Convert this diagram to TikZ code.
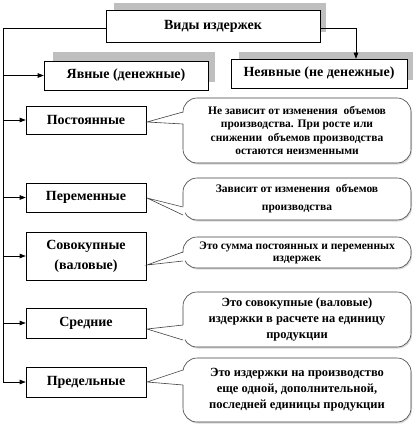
\documentclass[tikz,border=0pt]{standalone}
\usepackage{fontspec}
\setmainfont{Liberation Serif}
\usetikzlibrary{arrows.meta,shadows}

\tikzset{
  box/.style={draw, line width=0.6pt, fill=white, align=center, inner sep=0pt,
    font=\fontsize{14}{20}\selectfont\bfseries},
  leftbox/.style={box, minimum width=120pt},
  backshade/.style={fill=black!25},
  bubbleline/.style={draw=black!75, line width=0.6pt},
  bubble/.style={bubbleline, fill=white, rounded corners=14pt, align=center,
    inner sep=0pt, minimum width=228pt,
    drop shadow={shadow xshift=1pt, shadow yshift=-1.5pt, fill=black!30}},
  link/.style={line width=0.6pt, -{Triangle[length=6pt,width=4.5pt]}},
}

\newcommand{\tailwedge}[3]{% tip, upper base, lower base
  \fill[white] (#1) -- ([xshift=2pt]#2) -- ([xshift=2pt]#3) -- cycle;
  \draw[bubbleline] (#2) -- (#1) -- (#3);}

\begin{document}
\begin{tikzpicture}[x=1pt,y=-1pt]
  \useasboundingbox (0,0) rectangle (417,425);

  % grey backs of the top boxes
  \fill[backshade] (114,3) rectangle (326,32);
  \fill[backshade] (53,52) rectangle (215,82);
  \fill[backshade] (239,52) rectangle (413,80);

  % top level
  \node[box, minimum width=214pt, minimum height=32pt] (vid) at (213,26) {Виды издержек};
  \node[box, minimum width=164pt, minimum height=29pt] (yav) at (126,75.5) {Явные (денежные)};
  \node[box, minimum width=176pt, minimum height=29pt] (neyav) at (319,73.5) {Неявные (не денежные)};

  % kinds of costs
  \node[leftbox, minimum height=28pt] (post) at (86,120) {Постоянные};
  \node[leftbox, minimum height=29pt] (per) at (86,197.5) {Переменные};
  \node[leftbox, minimum height=48pt] (sov) at (86,256) {Совокупные\\(валовые)};
  \node[leftbox, minimum height=30pt] (sred) at (86,323) {Средние};
  \node[leftbox, minimum height=30pt] (pred) at (86,382) {Предельные};

  % callouts
  \node[bubble, minimum height=65pt, font=\fontsize{11.5}{13.5}\selectfont\bfseries] (postc) at (297,130.5)
    {Не зависит от изменения\ \ объемов\\производства. При росте или\\снижении\ \ объемов производства\\остаются неизменными};
  \node[bubble, minimum height=42pt, font=\fontsize{11.5}{18}\selectfont\bfseries] (perc) at (297,199)
    {Зависит от изменения\ \ объемов\\производства};
  \node[bubble, minimum height=31pt, font=\fontsize{11.5}{12}\selectfont\bfseries] (sovc) at (297,252.5)
    {Это сумма постоянных и переменных\\издержек};
  \node[bubble, minimum height=55pt, font=\fontsize{12.5}{16}\selectfont\bfseries] (sredc) at (297,319.5)
    {Это совокупные (валовые)\\издержки в расчете на единицу\\продукции};
  \node[bubble, minimum height=64pt, font=\fontsize{12.5}{16}\selectfont\bfseries] (predc) at (297,390)
    {Это издержки на производство\\еще одной, дополнительной,\\последней единицы продукции};

  % tails of the callouts
  \coordinate (posttip) at (147,122);  \coordinate (posta) at (183,112); \coordinate (postb) at (183,124);
  \coordinate (pertip) at (147,198);   \coordinate (pera) at (183,207);  \coordinate (perb) at (183,215);
  \coordinate (sovtip) at (147,265);   \coordinate (sova) at (183,252);  \coordinate (sovb) at (183,261);
  \coordinate (sredtip) at (147,329);  \coordinate (sreda) at (183,325); \coordinate (sredb) at (183,340);
  \coordinate (predtip) at (147,382);  \coordinate (preda) at (183,370); \coordinate (predb) at (183,385);
  \tailwedge{posttip}{posta}{postb}
  \tailwedge{pertip}{pera}{perb}
  \tailwedge{sovtip}{sova}{sovb}
  \tailwedge{sredtip}{sreda}{sredb}
  \tailwedge{predtip}{preda}{predb}

  % connectors
  \coordinate (trunk) at (3,28);
  \draw[line width=0.6pt] (vid.west |- trunk) -- (trunk) -- (trunk |- pred.west);
  \foreach \k in {yav,post,per,sov,sred,pred}
    \draw[link] (trunk |- \k.west) -- (\k.west);
  \draw[link] (vid.east |- trunk) -| ([xshift=37pt]neyav.north);
\end{tikzpicture}
\end{document}
